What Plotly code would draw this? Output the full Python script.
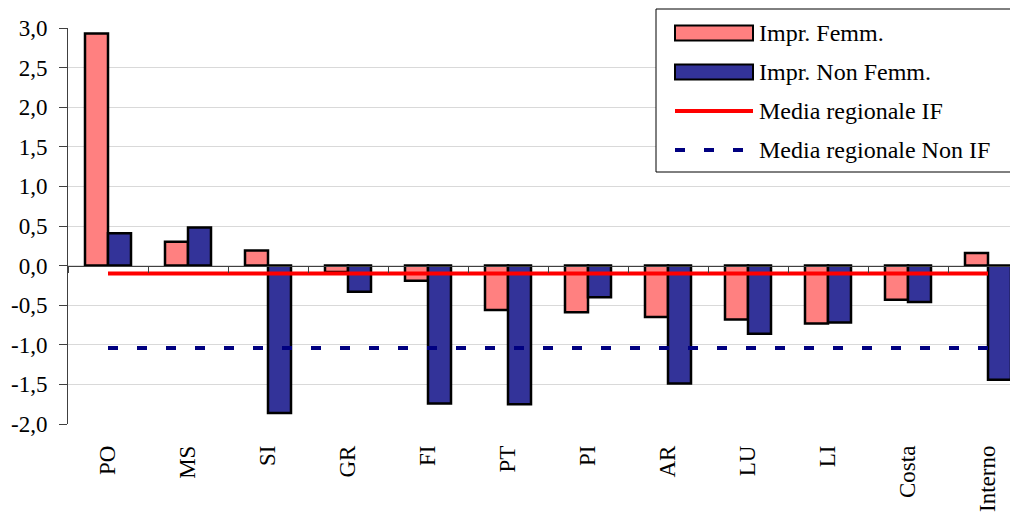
import plotly.graph_objects as go

categories = ["PO", "MS", "SI", "GR", "FI", "PT", "PI", "AR", "LU", "LI", "Costa", "Interno"]
impr_femm = [2.93, 0.30, 0.19, -0.08, -0.19, -0.56, -0.59, -0.65, -0.68, -0.73, -0.43, 0.16]
impr_non_femm = [0.41, 0.48, -1.86, -0.33, -1.74, -1.75, -0.40, -1.49, -0.86, -0.72, -0.46, -1.44]
media_if = -0.10
media_non_if = -1.04
series_names = ["Impr. Femm.", "Impr. Non Femm.", "Media regionale IF", "Media regionale Non IF"]
y_tickvals = [3.0, 2.5, 2.0, 1.5, 1.0, 0.5, 0.0, -0.5, -1.0, -1.5, -2.0]
y_ticktext = ["3,0", "2,5", "2,0", "1,5", "1,0", "0,5", "0,0", "-0,5", "-1,0", "-1,5", "-2,0"]

FONT = "Liberation Serif"
PINK = "#FF8080"
BLUE = "#333399"
RED = "#FF0000"
NAVY = "#000080"

# page body has an 8px default margin, so the figure is shrunk/shifted to compensate
OFF = 8
W, H = 1018 - OFF, 513 - OFF
ML, MR, MT, MB = 68 - OFF, 0, 28 - OFF, 89
PW, PH = W - ML - MR, H - MT - MB
PLOT_L, PLOT_B = 68, 424  # plot area in page pixels


def px(x):
    return (x - PLOT_L) / PW


def py(y):
    return (PLOT_B - y) / PH


fig = go.Figure()
fig.add_trace(go.Bar(
    x=categories, y=impr_femm, name=series_names[0],
    marker=dict(color=PINK, line=dict(color="black", width=2.5)),
))
fig.add_trace(go.Bar(
    x=categories, y=impr_non_femm, name=series_names[1],
    marker=dict(color=BLUE, line=dict(color="black", width=2.5)),
))
fig.add_trace(go.Scatter(
    x=categories, y=[media_if] * len(categories), name=series_names[2],
    mode="lines", line=dict(color=RED, width=4), xaxis="x2",
))
fig.add_trace(go.Scatter(
    x=categories, y=[media_non_if] * len(categories), name=series_names[3],
    mode="lines", line=dict(color=NAVY, width=4, dash="10px,19px"), xaxis="x2",
))

# custom legend (drawn to mimic the original legend box)
shapes = [dict(type="rect", xref="paper", yref="paper",
               x0=px(656), x1=px(1013), y0=py(172), y1=py(9),
               line=dict(color="black", width=1), fillcolor="white", layer="above")]
annotations = []
rows = [33, 72, 111, 150]
for i, (name, yc) in enumerate(zip(series_names, rows)):
    if i < 2:
        shapes.append(dict(type="rect", xref="paper", yref="paper",
                           x0=px(675), x1=px(753), y0=py(yc + 7.5), y1=py(yc - 7.5),
                           line=dict(color="black", width=2),
                           fillcolor=PINK if i == 0 else BLUE, layer="above"))
    else:
        shapes.append(dict(type="line", xref="paper", yref="paper",
                           x0=px(675), x1=px(753), y0=py(yc), y1=py(yc),
                           line=dict(color=RED if i == 2 else NAVY, width=4,
                                     dash="solid" if i == 2 else "10px,19px"),
                           layer="above"))
    annotations.append(dict(text=name, xref="paper", yref="paper",
                            x=px(757), y=py(yc), xanchor="left", yanchor="middle",
                            showarrow=False, font=dict(family=FONT, size=24, color="black")))

xr = [-0.5, 11.375]
fig.update_layout(
    width=W, height=H,
    margin=dict(l=ML, r=MR, t=MT, b=MB, autoexpand=False),
    paper_bgcolor="white", plot_bgcolor="white",
    font=dict(family=FONT, size=23, color="black"),
    barmode="group", bargap=0.425, bargroupgap=0,
    showlegend=False,
    shapes=shapes, annotations=annotations,
    xaxis=dict(
        type="category", categoryorder="array", categoryarray=categories,
        range=xr, showgrid=False, showline=False, ticks="", zeroline=False,
        tickangle=-90, tickfont=dict(family=FONT, size=23), ticklabelstandoff=16,
    ),
    xaxis2=dict(
        type="category", categoryorder="array", categoryarray=categories,
        overlaying="x", anchor="free", position=py(266), side="bottom",
        range=xr, showgrid=False, showticklabels=False, zeroline=False,
        showline=True, linecolor="#404040", linewidth=1,
        ticks="outside", tickson="boundaries", ticklen=6, tickcolor="#404040",
    ),
    yaxis=dict(
        range=[-2, 3], tickmode="array", tickvals=y_tickvals, ticktext=y_ticktext,
        showgrid=True, gridcolor="#d9d9d9", gridwidth=1,
        zeroline=False, showline=True, linecolor="#404040", linewidth=1,
        ticks="outside", ticklen=8, tickcolor="#404040",
        tickfont=dict(family=FONT, size=23), ticklabelstandoff=7,
    ),
)

fig.write_html("out.html")
